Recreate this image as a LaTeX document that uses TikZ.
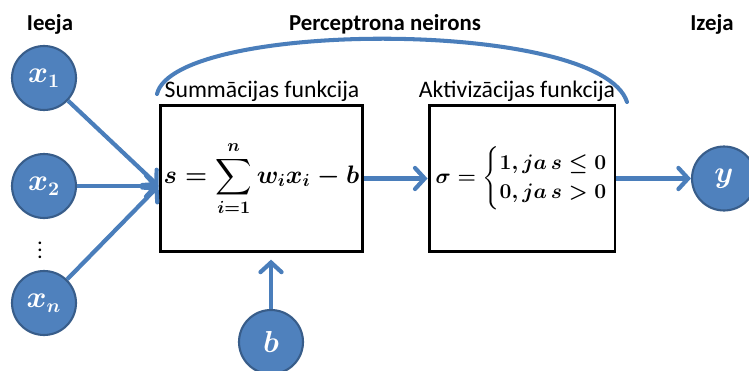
\documentclass[tikz,border=0pt]{standalone}
\usepackage{amsmath}
\usepackage{fontspec}
\setmainfont{Carlito}
\usetikzlibrary{arrows.meta}
\definecolor{nodeblue}{RGB}{79,129,189}
\definecolor{nodeedge}{RGB}{56,93,138}
\definecolor{linkblue}{RGB}{74,126,187}
\begin{document}
\begin{tikzpicture}[x=0.02cm,y=-0.02cm,
  neuron/.style={circle,fill=nodeblue,draw=nodeedge,line width=1.2pt,
    minimum size=1.28cm,inner sep=0pt,text=white,font=\fontsize{16}{18}\selectfont\boldmath},
  funcbox/.style={draw,line width=1.7pt,minimum height=2.94cm,inner sep=0pt},
  link/.style={draw=linkblue,line width=2.4pt,
    -{Straight Barb[length=5.5pt,width=12pt,line cap=round]}},
  title/.style={font=\bfseries\fontsize{13}{15}\selectfont},
  subtitle/.style={font=\fontsize{13.5}{15}\selectfont}]
\useasboundingbox (0,0) rectangle (749,371);

\node[title] (inlab) at (50,24) {Ieeja};
\node[title] (perclab) at (385,24) {Perceptrona neirons};
\node[title] (outlab) at (712,24) {Izeja};

\node[neuron] (x1) at (44,78) {$x_1$};
\node[neuron] (x2) at (44,186) {$x_2$};
\node[font=\bfseries,inner sep=0pt] (dots) at (40,245) {$\vdots$};
\node[neuron] (xn) at (44,303) {$x_n$};
\node[neuron] (b) at (271,342) {$b$};

\node[funcbox,minimum width=4.06cm,font=\fontsize{14}{17}\selectfont\boldmath]
  (sum) at (261.5,178.5) {$\displaystyle s=\sum_{i=1}^{n} w_i x_i - b$};
\node[funcbox,minimum width=3.72cm,font=\fontsize{13}{15}\selectfont\boldmath]
  (act) at (522,178.5) {$\sigma=\left\{\arraycolsep=0pt\def\arraystretch{1.1}\begin{array}{l}1, ja\, s\le 0\\0, ja\, s>0\end{array}\right.$};
\node[subtitle] (sumlab) at (262,91) {Summācijas funkcija};
\node[subtitle] (actlab) at (517,91) {Aktivizācijas funkcija};

\node[neuron] (y) at (724,178.5) {$y$};

\coordinate (sumin) at (sum.west |- x2);
\coordinate (sumbot) at (b |- sum.south);
\draw[link] (x1) -- (sumin);
\draw[link] (x2) -- (sumin);
\draw[link] (xn) -- (sumin);
\draw[link,shorten >=3.5pt] (b) -- (sumbot);
\draw[link] (sum.east) -- (act.west);
\draw[link] (act.east) -- (y);

% neuron bracket
\draw[linkblue,line width=2.3pt,line cap=round] (157,94) .. controls (175,20) and (600,18) .. (627,102);
\end{tikzpicture}
\end{document}
